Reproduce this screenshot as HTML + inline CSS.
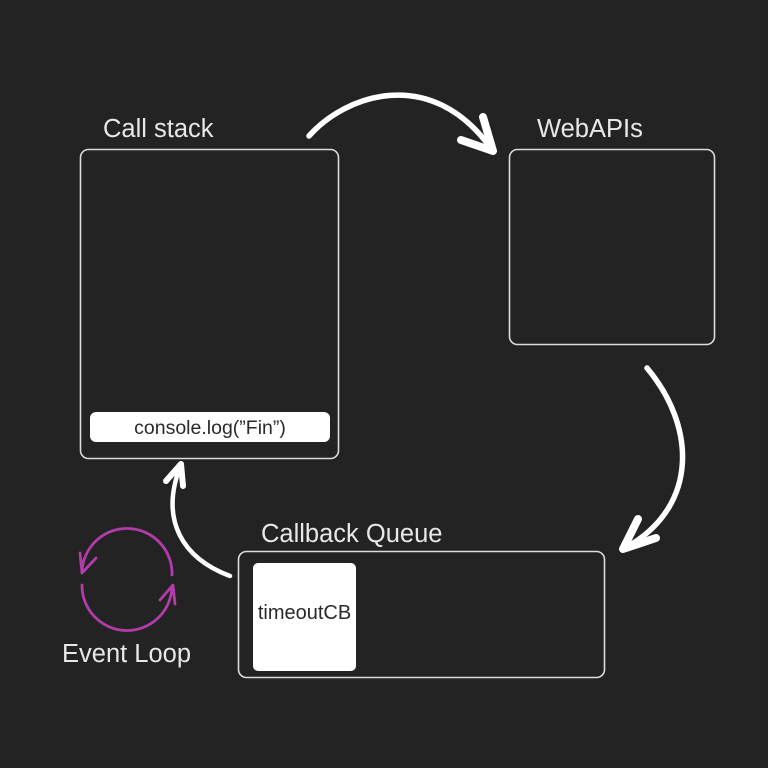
<!DOCTYPE html>
<html>
<head>
<meta charset="utf-8">
<style>
  html,body{margin:0;padding:0;background:#232323;}
  body{width:768px;height:768px;overflow:hidden;}
  svg{display:block;}
  .lbl{font-family:"Liberation Sans","DejaVu Sans",sans-serif;fill:#e8e8e8;font-size:25.5px;}
  .dk{font-family:"Liberation Sans","DejaVu Sans",sans-serif;fill:#2a2a2a;font-size:19.5px;}
</style>
</head>
<body>
<svg width="768" height="768" viewBox="0 0 768 768" xmlns="http://www.w3.org/2000/svg">
  <rect x="0" y="0" width="768" height="768" fill="#232323"/>

  <!-- Labels -->
  <text class="lbl" x="103" y="137">Call stack</text>
  <text class="lbl" x="537" y="137">WebAPIs</text>
  <text class="lbl" x="261" y="542">Callback Queue</text>
  <text class="lbl" x="62" y="662">Event Loop</text>

  <!-- Boxes -->
  <rect x="80.5" y="149.5" width="258" height="309" rx="8" fill="none" stroke="#dcdcdc" stroke-width="1.6"/>
  <rect x="509.5" y="149.5" width="205" height="195" rx="8" fill="none" stroke="#dcdcdc" stroke-width="1.6"/>
  <rect x="238.5" y="551.5" width="366" height="126" rx="8" fill="none" stroke="#dcdcdc" stroke-width="1.6"/>

  <!-- console.log pill -->
  <rect x="90" y="412" width="240" height="30" rx="6" fill="#ffffff"/>
  <text class="dk" x="210" y="434" text-anchor="middle">console.log(”Fin”)</text>

  <!-- timeoutCB -->
  <rect x="253" y="563" width="103" height="108" rx="5" fill="#ffffff"/>
  <text class="dk" x="304.5" y="619" text-anchor="middle" style="font-size:20px">timeoutCB</text>

  <!-- Top arrow -->
  <path d="M309,136 C345,95 430,65 490,147" fill="none" stroke="#ffffff" stroke-width="5.5" stroke-linecap="round"/>
  <path d="M461,140 L493,151 L483,117" fill="none" stroke="#ffffff" stroke-width="8" stroke-linecap="round" stroke-linejoin="round"/>

  <!-- Right arrow -->
  <path d="M647,368 C695,425 700,505 627,547" fill="none" stroke="#ffffff" stroke-width="5.5" stroke-linecap="round"/>
  <path d="M638,519 L623,549 L656,538" fill="none" stroke="#ffffff" stroke-width="8" stroke-linecap="round" stroke-linejoin="round"/>

  <!-- Left arrow (queue -> call stack) -->
  <path d="M230,576 C182,558 160,520 180,467" fill="none" stroke="#ffffff" stroke-width="4.5" stroke-linecap="round"/>
  <path d="M166,481 L181,464 L183,486" fill="none" stroke="#ffffff" stroke-width="6" stroke-linecap="round" stroke-linejoin="round"/>

  <!-- Event loop -->
  <g fill="none" stroke="#b23ca9" stroke-width="2.8" stroke-linecap="round" stroke-linejoin="round">
    <path d="M172,575 A45,45 0 0 0 82,572"/>
    <path d="M80,553 L82,573 L96,558"/>
    <path d="M82,585 A45,45 0 0 0 172,586"/>
    <path d="M175,604 L173,585 L160,600"/>
  </g>
</svg>
</body>
</html>
